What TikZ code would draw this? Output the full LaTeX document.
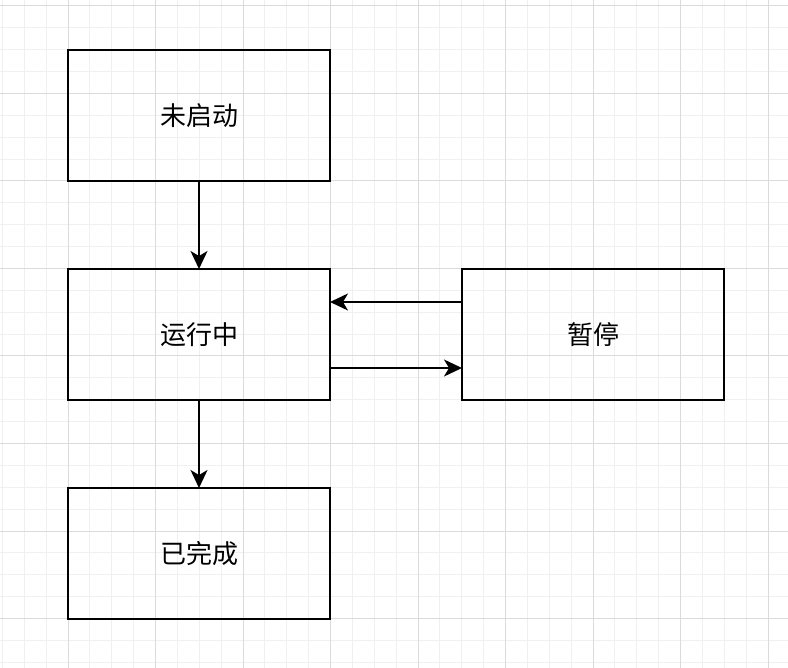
\documentclass[tikz,border=0pt]{standalone}
\usepackage{fontspec}
\newfontfamily\cjk{Noto Sans CJK SC}
\usetikzlibrary{arrows.meta,positioning}

\begin{document}
\begin{tikzpicture}[x=1pt,y=-1pt,
    state/.style={draw,rectangle,line width=1.8pt,minimum width=262pt,minimum height=131pt,
                  inner sep=0pt,outer sep=0pt,font=\cjk\fontsize{26}{30}\selectfont},
    minorline/.style={draw=black!6,line width=1pt},
    majorline/.style={draw=black!14,line width=1pt},
    link/.style={line width=1.8pt,-{Stealth[length=18pt,width=17pt,inset=5pt]}},
    node distance=88pt and 132pt]

    % background grid
    \fill[white] (0,0) rectangle (788,668);
    \useasboundingbox (0,0) rectangle (788,668);
    \foreach \i in {0,...,35} \draw[minorline] ({2.375+\i*21.875},0) -- ++(0,668);
    \foreach \i in {0,...,30} \draw[minorline] (0,{6+\i*21.875}) -- ++(788,0);
    \foreach \i in {0,...,8} \draw[majorline] ({68+\i*87.5},0) -- ++(0,668);
    \foreach \i in {0,...,7} \draw[majorline] (0,{6+\i*87.5}) -- ++(788,0);

    \node [state] (idle) at (199,115.5) {未启动};
    \node [state, below = of idle] (run) {运行中};
    \node [state, right = of run] (pause) {暂停};
    \node [state, below = of run] (done) {已完成};

    \draw[link] (idle) -- (run);
    \draw[link] (run) -- (done);
    \draw[link] ([yshift=32.5pt]pause.west) -- ([yshift=32.5pt]run.east);
    \draw[link] ([yshift=-33.5pt]run.east) -- ([yshift=-33.5pt]pause.west);
\end{tikzpicture}
\end{document}
